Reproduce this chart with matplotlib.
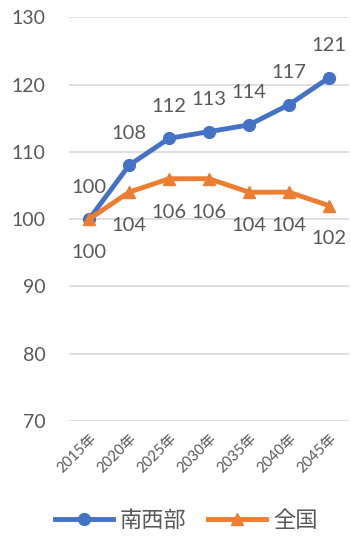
import matplotlib
matplotlib.use("Agg")
import matplotlib.pyplot as plt

plt.rcParams['font.family'] = ['Lato', 'Noto Sans CJK JP', 'DejaVu Sans']

years = ["2015年", "2020年", "2025年", "2030年", "2035年", "2040年", "2045年"]
southwest = [100, 108, 112, 113, 114, 117, 121]
national = [100, 104, 106, 106, 104, 104, 102]
yticks = [70, 80, 90, 100, 110, 120, 130]

blue = "#4472C4"
orange = "#ED7D31"
gray = "#595959"

fig = plt.figure(figsize=(3.51, 5.39), dpi=100)
ax = fig.add_axes([0.197, 0.219, 0.797, 0.749])
x = list(range(len(years)))
ax.plot(x, southwest, color=blue, lw=3.5, marker='o', ms=8.5, label="南西部", zorder=3)
ax.plot(x, national, color=orange, lw=3.5, marker='^', ms=9, label="全国", zorder=3)

for xi, v in zip(x, southwest):
    ax.annotate(str(v), (xi, v), xytext=(0, 23), textcoords='offset points',
                ha='center', va='center', fontsize=14.5, color=gray)
for xi, v in zip(x, national):
    ax.annotate(str(v), (xi, v), xytext=(0, -24), textcoords='offset points',
                ha='center', va='center', fontsize=14.5, color=gray)

ax.set_xlim(-0.5, len(years) - 0.5)
ax.set_ylim(70, 130)
ax.set_yticks(yticks)
ax.set_yticklabels([str(t) for t in yticks], fontsize=14, color=gray)
ax.set_xticks(x)
ax.set_xticklabels(years, rotation=45, ha='right', rotation_mode='anchor',
                   fontsize=10.5, color=gray)
ax.tick_params(axis='both', length=0)
ax.tick_params(axis='y', pad=17)
ax.tick_params(axis='x', pad=7)
ax.grid(axis='y', color='#D9D9D9', lw=1.2)
ax.set_axisbelow(True)
for s in ax.spines.values():
    s.set_visible(False)

fig.legend(loc='lower center', bbox_to_anchor=(0.53, -0.022), ncol=2, frameon=False,
           fontsize=16, labelcolor=gray, handlelength=2.6, columnspacing=1.0,
           handletextpad=0.3)

fig.savefig("out.png", dpi=100)
